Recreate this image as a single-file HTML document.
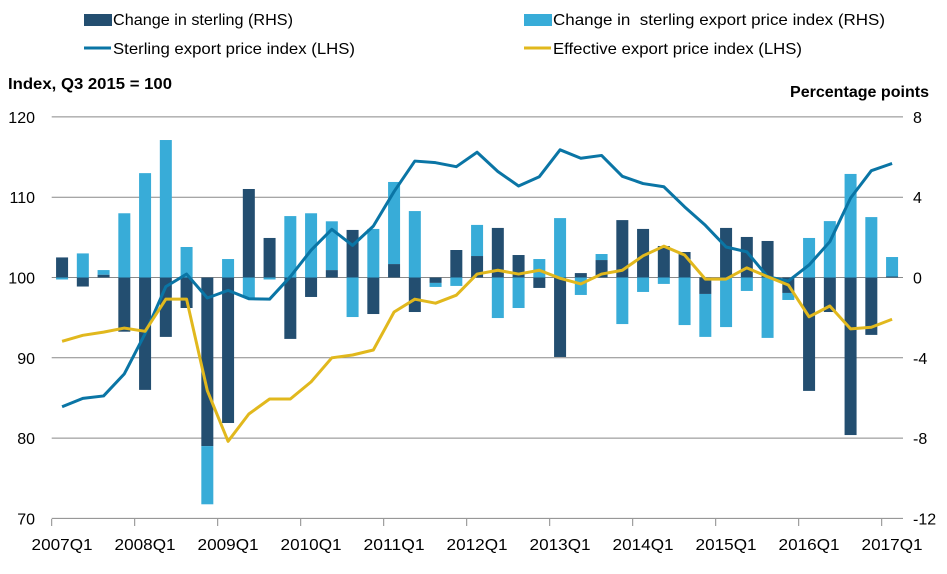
<!DOCTYPE html>
<html><head><meta charset="utf-8"><style>
body{margin:0;background:#fff;width:947px;height:569px;overflow:hidden}
svg{font-family:"Liberation Sans",Arial,sans-serif}
</style></head><body>
<svg id="chart" width="947" height="569">
<g font-size="16" fill="#000">
<rect x="84" y="14" width="28" height="12" fill="#234e70"/>
<text x="113" y="25" textLength="180" lengthAdjust="spacingAndGlyphs">Change in sterling (RHS)</text>
<rect x="524" y="14" width="28" height="12" fill="#38acd8"/>
<text x="553" y="25" textLength="332" lengthAdjust="spacingAndGlyphs" xml:space="preserve">Change in  sterling export price index (RHS)</text>
<line x1="84" y1="48" x2="111" y2="48" stroke="#0a75a5" stroke-width="3"/>
<text x="113" y="54" textLength="242" lengthAdjust="spacingAndGlyphs">Sterling export price index (LHS)</text>
<line x1="524" y1="48" x2="551" y2="48" stroke="#e1b81d" stroke-width="3"/>
<text x="553" y="54" textLength="249" lengthAdjust="spacingAndGlyphs">Effective export price index (LHS)</text>
</g>
<text x="8" y="89" font-size="16" font-weight="bold" textLength="164" lengthAdjust="spacingAndGlyphs">Index, Q3 2015 = 100</text>
<text x="790" y="97" font-size="16" font-weight="bold" textLength="139" lengthAdjust="spacingAndGlyphs">Percentage points</text>
<g id="grid"></g><g id="bars"></g><g id="lines"></g><g id="axes"></g>
</svg>
<script>
const quarters = 41;
const xLabels = ["2007Q1","2008Q1","2009Q1","2010Q1","2011Q1","2012Q1","2013Q1","2014Q1","2015Q1","2016Q1","2017Q1"];
const leftTicks = [70,80,90,100,110,120];
const rightTicks = [-12,-8,-4,0,4,8];
const changeSterling = [1.0,-0.45,0.14,-2.7,-5.6,-2.96,-1.52,-8.4,-7.25,4.41,1.97,-3.06,-0.97,0.37,2.37,-1.82,0.67,-1.72,-0.27,1.37,1.07,2.47,1.12,-0.52,-3.96,0.22,0.87,2.86,2.42,1.57,1.27,-0.82,2.47,2.02,1.82,-0.77,-5.65,-1.72,-7.85,-2.86,0.05];
const changeExportPrice = [-0.1,1.2,0.23,3.2,5.2,6.85,1.52,-2.9,0.92,-1.0,-0.1,3.06,3.2,2.43,-1.97,2.42,4.09,3.31,-0.2,-0.42,1.55,-2.02,-1.52,0.92,2.96,-0.87,0.3,-2.32,-0.72,-0.32,-2.37,-2.14,-2.47,-0.67,-3.01,-0.35,1.97,2.81,5.16,3.01,0.97];
const sterlingIndex = [83.9,84.95,85.25,88.0,93.0,98.86,100.43,97.45,98.4,97.36,97.3,100.1,103.4,106.0,104.0,106.4,110.7,114.5,114.3,113.8,115.6,113.2,111.4,112.55,115.9,114.85,115.2,112.6,111.7,111.3,108.8,106.5,103.8,103.2,100.1,99.56,101.56,104.46,109.9,113.3,114.2];
const effectiveIndex = [92.05,92.8,93.2,93.7,93.3,97.3,97.3,85.9,79.6,83.0,84.87,84.87,87.0,90.0,90.35,90.97,95.7,97.3,96.8,97.8,100.43,100.9,100.43,100.9,99.9,99.2,100.43,100.9,102.7,103.9,102.8,99.8,99.8,101.2,100.1,99.07,95.1,96.45,93.6,93.8,94.8];

const NS="http://www.w3.org/2000/svg";
const X0=51.7, QW=20.75, PR=903;
const yL=v=>277.5-(v-100)*8.03;
const yR=v=>277.5-v*20.07;
const xc=i=>X0+(i+0.5)*QW;
function mk(tag,attrs,parent){const e=document.createElementNS(NS,tag);for(const k in attrs)e.setAttribute(k,attrs[k]);parent.appendChild(e);return e;}
const grid=document.getElementById('grid'),bars=document.getElementById('bars'),lines=document.getElementById('lines'),axes=document.getElementById('axes');
leftTicks.forEach(t=>{
  const y=yL(t);
  const g=mk('line',{x1:X0,x2:PR,y1:y,y2:y,stroke:'#898989','stroke-width':1},grid);
  
  
  const tl=mk('text',{x:35,y:y+6,'text-anchor':'end','font-size':16},axes);
  tl.textContent=t;
  
  
});
rightTicks.forEach(t=>{
  const y=yR(t);
  const tl=mk('text',{x:913,y:y+6,'font-size':16},axes);
  tl.textContent=t;
  
  
});
xLabels.forEach((l,k)=>{
  const x=X0+k*4*QW;
  const tk=mk('line',{x1:x,x2:x,y1:519,y2:526,stroke:'#898989'},axes);
  
  
  const tl=mk('text',{x:xc(k*4),y:550,'text-anchor':'middle','font-size':16,textLength:61,lengthAdjust:'spacingAndGlyphs'},axes);
  tl.textContent=l;
  
  
});
for(let i=0;i<quarters;i++){
  let pos=0,neg=0;
  [[changeSterling[i],'#234e70','bar-change-sterling'],[changeExportPrice[i],'#38acd8','bar-change-export-price']].forEach(([v,c,n])=>{
    let a,b;
    if(v>=0){a=pos;b=pos+v;pos=b;}else{a=neg;b=neg+v;neg=b;}
    const y1=yR(Math.max(a,b)),y2=yR(Math.min(a,b));
    const r=mk('rect',{x:xc(i)-6,y:y1,width:12,height:Math.max(0,y2-y1),fill:c},bars);
    
    
  });
}
[[sterlingIndex,'#0a75a5','line-sterling-export-price'],[effectiveIndex,'#e1b81d','line-effective-export-price']].forEach(([d,c,n])=>{
  const p=mk('polyline',{points:d.map((v,i)=>xc(i)+','+yL(v)).join(' '),fill:'none',stroke:c,'stroke-width':3,'stroke-linejoin':'round'},lines);
  
  
});
</script>
</body></html>
